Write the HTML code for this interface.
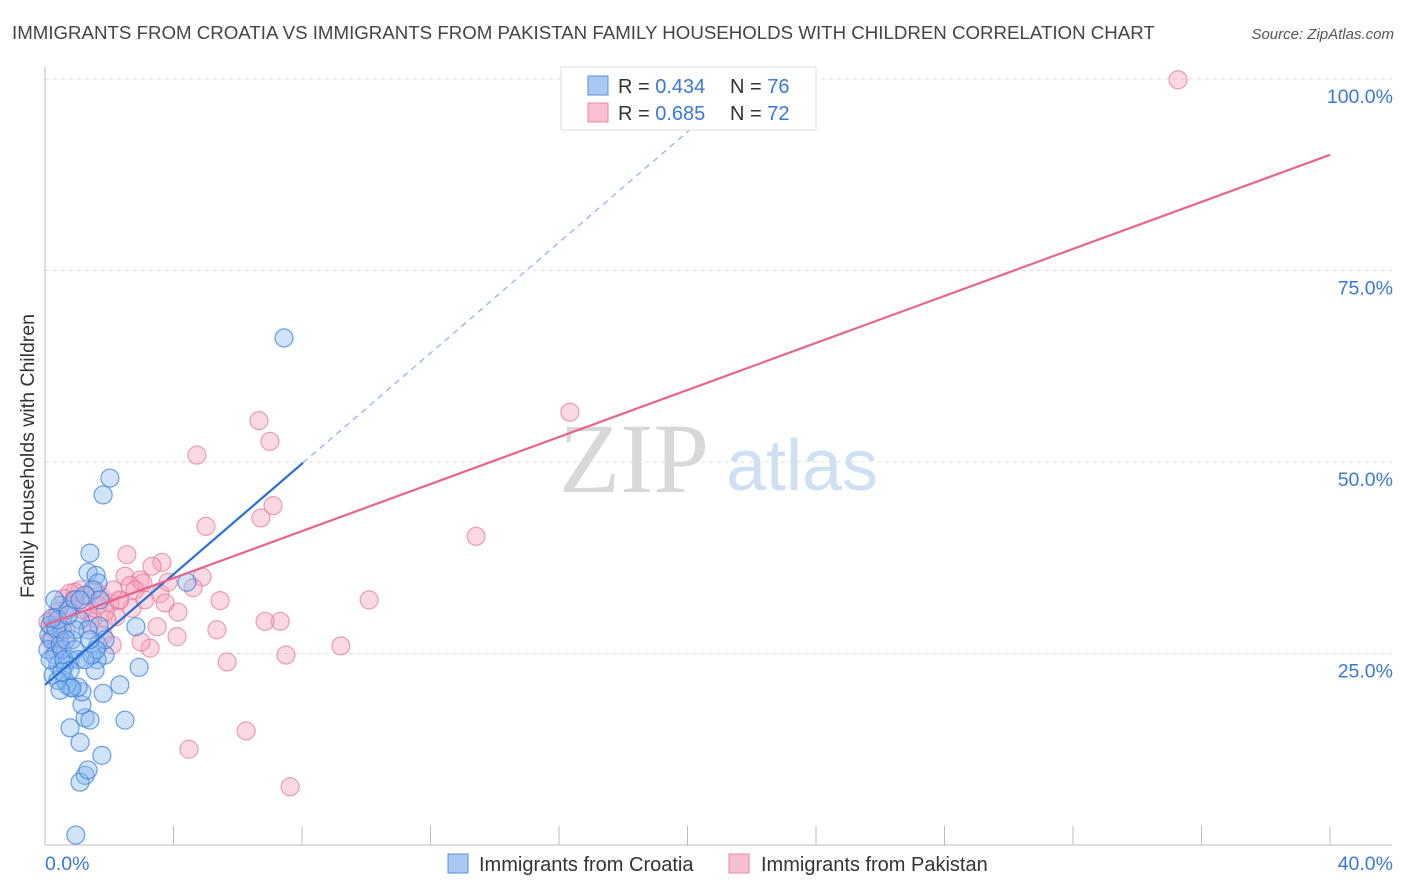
<!DOCTYPE html>
<html><head><meta charset="utf-8"><style>
body{margin:0;background:#fff;font-family:"Liberation Sans",sans-serif;}
svg{display:block}
</style></head><body>
<svg id="chart" width="1406" height="892" viewBox="0 0 1406 892" xmlns="http://www.w3.org/2000/svg">
<text x="12" y="39" font-size="18.7" fill="#444">IMMIGRANTS FROM CROATIA VS IMMIGRANTS FROM PAKISTAN FAMILY HOUSEHOLDS WITH CHILDREN CORRELATION CHART</text>
<text x="1394" y="39" font-size="15" fill="#555" font-style="italic" text-anchor="end">Source: ZipAtlas.com</text>
<text transform="translate(34,456) rotate(-90)" font-size="19.5" fill="#333" text-anchor="middle">Family Households with Children</text>
<g>
<text x="634" y="492" font-size="100" fill="#d8d8d8" font-family="Liberation Serif,serif" text-anchor="middle">ZIP</text>
<text x="802" y="490" font-size="72" fill="#cfe0f4" text-anchor="middle">atlas</text>
</g>
<g id="grid"></g>
<g id="axes"></g>
<g id="pts"></g>
<g id="lines"></g>
<g>
<rect x="561" y="67" width="255" height="63" fill="#fff" stroke="#ddd"/>
<rect x="588" y="76" width="20" height="19" fill="#aac9f2" stroke="#5b8fd6"/>
<rect x="588" y="103" width="20" height="19" fill="#f8c0d0" stroke="#e88aa5"/>
<text x="618" y="93" font-size="20" fill="#333">R = <tspan fill="#3a78d8">0.434</tspan><tspan x="730">N = </tspan><tspan fill="#3a78d8">76</tspan></text>
<text x="618" y="120" font-size="20" fill="#333">R = <tspan fill="#3a78d8">0.685</tspan><tspan x="730">N = </tspan><tspan fill="#3a78d8">72</tspan></text>
</g>
<g>
<rect x="448" y="854" width="20" height="19" fill="#aac9f2" stroke="#5b8fd6"/>
<text x="479" y="871" font-size="20" fill="#333">Immigrants from Croatia</text>
<rect x="729" y="854" width="20" height="19" fill="#f8c0d0" stroke="#e88aa5"/>
<text x="761" y="871" font-size="20" fill="#333">Immigrants from Pakistan</text>
</g>
</svg>
<script>
const yTicks=[25,50,75,100];
const yTickLabels=["25.0%","50.0%","75.0%","100.0%"];
const xTicks=[0,4,8,12,16,20,24,28,32,36,40];
const xEndLabels=["0.0%","40.0%"];
const croatiaX=[0.12,0.22,0.09,0.31,0.47,0.16,0.53,0.40,0.25,0.62,0.78,0.84,0.47,0.72,0.93,1.09,1.34,1.40,1.59,1.65,1.49,1.25,1.68,1.65,1.87,1.62,1.56,1.81,2.33,2.49,1.77,1.25,1.09,1.34,1.09,1.25,1.40,1.15,1.15,1.03,0.78,0.68,0.62,0.78,0.96,1.81,2.02,2.83,2.93,4.42,7.44,0.34,0.16,0.53,0.84,1.34,0.93,1.87,0.40,0.65,0.31,1.03,1.46,0.59,0.78,0.22,1.09,1.59,0.40,0.47,0.93,1.25,1.40,0.72,1.71,0.53];
const croatiaY=[27.4,26.8,25.5,24.8,26.1,28.7,28.1,23.5,22.2,21.5,24.2,26.8,31.3,30.7,32.0,29.4,35.6,38.1,35.2,34.2,33.3,32.6,28.6,26.1,24.8,24.2,22.8,19.8,20.9,16.3,11.7,9.1,8.2,9.8,13.4,16.6,16.3,18.3,20.0,20.6,20.6,20.9,23.5,15.3,1.3,45.7,47.9,28.5,23.2,34.3,66.2,28.3,24.2,25.5,20.5,28.1,28.1,26.8,29.4,26.8,32.0,24.2,24.8,24.2,22.8,29.6,32.0,25.5,21.5,20.2,25.5,24.2,26.8,30.0,32.0,22.6];
const pakistanX=[35.27,16.34,13.42,6.66,7.00,4.73,5.01,7.10,6.72,10.09,9.21,7.32,6.85,7.50,6.26,4.48,7.63,5.67,5.35,5.45,4.89,4.61,4.14,4.11,3.64,3.33,3.49,3.27,2.99,2.55,2.49,2.96,3.05,3.58,3.83,3.74,2.65,2.71,2.30,2.21,2.02,1.93,1.71,1.56,1.31,1.09,0.93,0.78,0.59,0.40,0.31,0.22,0.16,0.53,0.78,1.34,1.49,1.81,2.09,0.09,0.47,0.90,0.65,0.34,2.33,2.80,3.11,1.15,1.65,1.87,1.40,2.12];
const pakistanY=[99.9,56.5,40.3,55.4,52.7,50.9,41.6,44.3,42.7,32.0,26.0,29.2,29.2,24.8,14.9,12.5,7.6,23.9,28.1,31.9,35.0,33.6,30.4,27.2,36.9,36.4,28.5,25.7,26.5,37.9,35.1,34.6,34.2,32.8,34.3,31.6,33.9,30.9,31.9,29.8,31.6,29.4,32.6,33.3,32.5,33.3,33.0,32.9,32.2,30.5,29.6,28.3,26.8,28.7,31.3,30.4,29.6,27.4,26.1,29.1,26.8,32.0,28.1,25.5,32.0,33.3,32.0,30.7,31.3,30.4,28.7,33.3];
const croatiaFit=[20.9,3.61,8.03];   // intercept, slope, solid-line end x
const pakistanFit=[28.7,1.535];

const X=v=>45+v*32.125, Y=v=>845-v*7.66;
const NS="http://www.w3.org/2000/svg";
function mk(tag,attrs,parent){const e=document.createElementNS(NS,tag);for(const k in attrs)e.setAttribute(k,attrs[k]);parent.appendChild(e);return e;}
const grid=document.getElementById('grid'),axes=document.getElementById('axes'),pts=document.getElementById('pts'),lines=document.getElementById('lines');
yTicks.forEach((t,i)=>{
  const l=mk('line',{x1:45,x2:1392,y1:Y(t),y2:Y(t),stroke:'#ddd','stroke-dasharray':'4 4'},grid);
  
  
  const tx=mk('text',{x:1393,y:Y(t)+24,'font-size':19.5,fill:'#3a78d8','text-anchor':'end'},axes);
  tx.textContent=yTickLabels[i];
  
  
});
const al=mk('line',{x1:45,x2:45,y1:67,y2:845,stroke:'#bbb'},axes);


const bl=mk('line',{x1:45,x2:1392,y1:845,y2:845,stroke:'#bbb'},axes);


xTicks.forEach(t=>{
  const tk=mk('line',{x1:X(t),x2:X(t),y1:826,y2:845,stroke:'#bbb'},axes);
  
  
});
const x0=mk('text',{x:45,y:870,'font-size':19.5,fill:'#3a78d8'},axes);x0.textContent=xEndLabels[0];


const x1=mk('text',{x:1393,y:870,'font-size':19.5,fill:'#3a78d8','text-anchor':'end'},axes);x1.textContent=xEndLabels[1];


pakistanX.forEach((v,i)=>{
  const c=mk('circle',{cx:X(v),cy:Y(pakistanY[i]),r:9,fill:'rgba(245,160,185,0.4)',stroke:'rgba(228,120,155,0.7)','stroke-width':1.2},pts);
  
  
});
croatiaX.forEach((v,i)=>{
  const c=mk('circle',{cx:X(v),cy:Y(croatiaY[i]),r:9,fill:'rgba(140,185,240,0.4)',stroke:'rgba(60,130,220,0.75)','stroke-width':1.2},pts);
  
  
});
const cMax=croatiaFit[2];
const bEnd=(100-croatiaFit[0])/croatiaFit[1];
const l1=mk('line',{x1:X(0),y1:Y(croatiaFit[0]),x2:X(cMax),y2:Y(croatiaFit[0]+croatiaFit[1]*cMax),stroke:'#2a6fd6','stroke-width':2.2},lines);


const l2=mk('line',{x1:X(cMax),y1:Y(croatiaFit[0]+croatiaFit[1]*cMax),x2:X(bEnd),y2:Y(100),stroke:'#8ab0e6','stroke-width':1.2,'stroke-dasharray':'6 5'},lines);


const l3=mk('line',{x1:X(0),y1:Y(pakistanFit[0]),x2:X(40),y2:Y(pakistanFit[0]+pakistanFit[1]*40),stroke:'#e8648e','stroke-width':2.2},lines);


</script>
</body></html>
